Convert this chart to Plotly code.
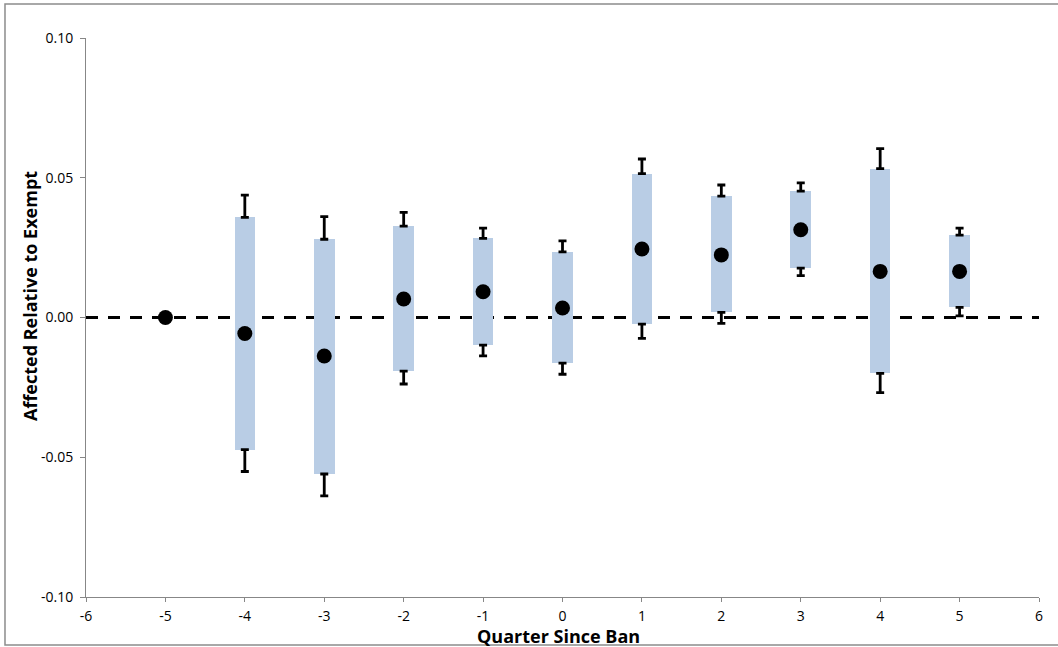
import plotly.graph_objects as go

# Event-study estimates by quarter relative to the ban
quarters = [-5, -4, -3, -2, -1, 0, 1, 2, 3, 4, 5]
coef = [0.0000, -0.0057, -0.0138, 0.0066, 0.0092, 0.0034, 0.0245, 0.0224, 0.0314, 0.0165, 0.0165]
# 90% confidence interval (shaded boxes)
ci90_lo = [None, -0.0473, -0.0560, -0.0192, -0.0099, -0.0163, -0.0024, 0.0018, 0.0177, -0.0200, 0.0036]
ci90_hi = [None, 0.0358, 0.0280, 0.0327, 0.0283, 0.0235, 0.0515, 0.0434, 0.0452, 0.0533, 0.0295]
# 95% confidence interval (whiskers)
ci95_lo = [None, -0.0551, -0.0638, -0.0238, -0.0137, -0.0203, -0.0075, -0.0021, 0.0150, -0.0269, 0.0006]
ci95_hi = [None, 0.0438, 0.0361, 0.0376, 0.0320, 0.0274, 0.0567, 0.0474, 0.0482, 0.0604, 0.0320]

x_ticks = [-6, -5, -4, -3, -2, -1, 0, 1, 2, 3, 4, 5, 6]
x_tick_labels = ["-6", "-5", "-4", "-3", "-2", "-1", "0", "1", "2", "3", "4", "5", "6"]
y_ticks = [-0.10, -0.05, 0.00, 0.05, 0.10]
y_tick_labels = ["-0.10", "-0.05", "0.00", "0.05", "0.10"]

x_title = "Quarter Since Ban"
y_title = "Affected Relative to Exempt"

BOX = "#B9CDE5"
AXIS = "#878787"
FONT = "Open Sans"

# only quarters that have an interval
iq = [i for i, v in enumerate(ci90_lo) if v is not None]
bx = [quarters[i] for i in iq]
b_lo = [ci90_lo[i] for i in iq]
b_len = [ci90_hi[i] - ci90_lo[i] for i in iq]
up_base = [ci90_hi[i] for i in iq]
up_err = [ci95_hi[i] - ci90_hi[i] for i in iq]
dn_base = [ci90_lo[i] for i in iq]
dn_err = [ci90_lo[i] - ci95_lo[i] for i in iq]

fig = go.Figure()

fig.add_trace(go.Bar(
    x=bx, y=b_len, base=b_lo, width=0.26,
    marker=dict(color=BOX, line=dict(width=0)),
    showlegend=False, hoverinfo="skip",
))

# upper whiskers from top of box to 95% bound
fig.add_trace(go.Scatter(
    x=bx, y=up_base, mode="markers",
    marker=dict(size=0.1, color="rgba(0,0,0,0)"),
    error_y=dict(type="data", symmetric=False, array=up_err,
                 arrayminus=[0] * len(up_err),
                 color="black", thickness=2.8, width=4),
    showlegend=False, hoverinfo="skip",
))
# lower whiskers
fig.add_trace(go.Scatter(
    x=bx, y=dn_base, mode="markers",
    marker=dict(size=0.1, color="rgba(0,0,0,0)"),
    error_y=dict(type="data", symmetric=False, array=[0] * len(dn_err),
                 arrayminus=dn_err,
                 color="black", thickness=2.8, width=4),
    showlegend=False, hoverinfo="skip",
))

# point estimates
fig.add_trace(go.Scatter(
    x=quarters, y=coef, mode="markers",
    marker=dict(size=15, color="black"),
    showlegend=False,
))

# zero reference line, behind the boxes
fig.add_shape(type="line", xref="paper", x0=0, x1=1, yref="y", y0=0, y1=0,
              line=dict(color="black", width=3, dash="12px,10px"), layer="below")

# outer chart border (right edge falls outside the canvas)
fig.add_shape(type="rect", xref="paper", yref="paper",
              x0=-0.085, x1=1.06, y0=-0.0859, y1=1.0608,
              line=dict(color="#8C8C8C", width=1.5), layer="below")

fig.add_annotation(text="<b>" + x_title + "</b>", xref="paper", yref="paper",
                   x=0.4955, y=-0.0698, xanchor="center", yanchor="middle",
                   showarrow=False,
                   font=dict(family=FONT, size=18, color="black"))
fig.add_annotation(text="<b>" + y_title + "</b>", xref="paper", yref="paper",
                   x=-0.0587, y=0.5385, xanchor="center", yanchor="middle",
                   textangle=-90, showarrow=False,
                   font=dict(family=FONT, size=18, color="black"))

fig.update_xaxes(range=[-6, 6], tickvals=x_ticks, ticktext=x_tick_labels,
                 showgrid=False, zeroline=False, showline=True, linecolor=AXIS,
                 linewidth=1, ticks="outside", ticklen=4, tickcolor=AXIS,
                 ticklabelstandoff=2,
                 tickfont=dict(family=FONT, size=14, color="black"))
fig.update_yaxes(range=[-0.10, 0.10], tickvals=y_ticks, ticktext=y_tick_labels,
                 showgrid=False, zeroline=False, showline=True, linecolor=AXIS,
                 linewidth=1, ticks="outside", ticklen=5, tickcolor=AXIS,
                 ticklabelstandoff=4,
                 tickfont=dict(family=FONT, size=14, color="black"))

fig.update_layout(
    width=1058, height=647,
    margin=dict(l=86, r=19, t=38, b=50),
    plot_bgcolor="white", paper_bgcolor="white",
    bargap=0, showlegend=False,
)

fig.write_html("out.html")
